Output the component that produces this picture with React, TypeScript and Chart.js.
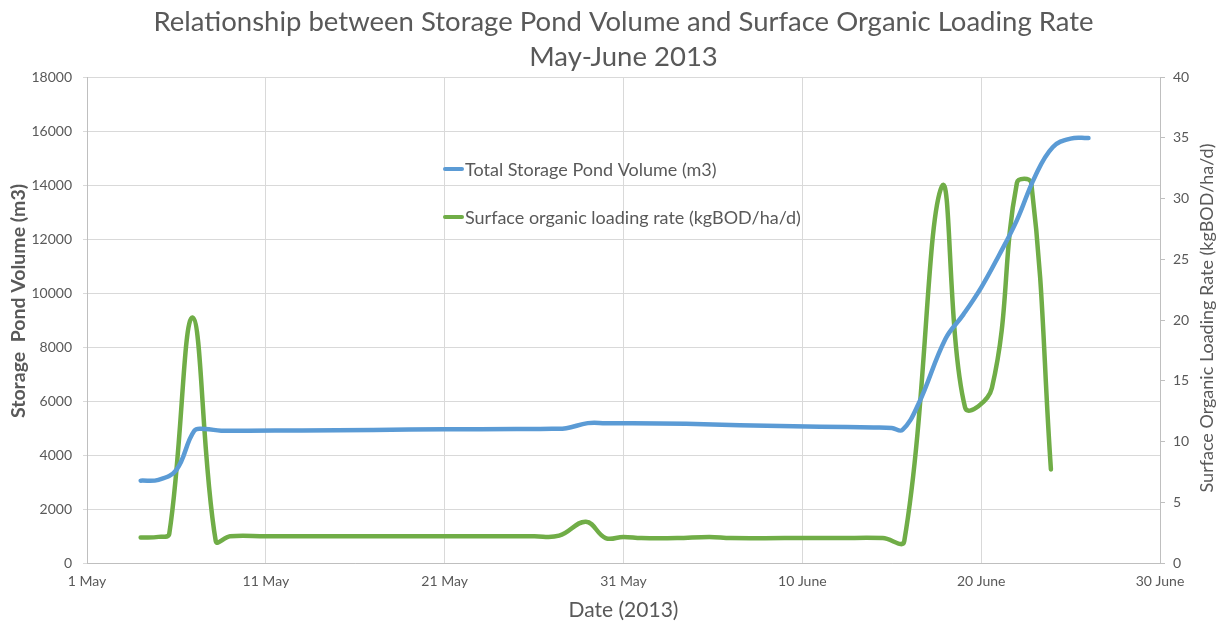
import React, { useEffect, useRef } from 'react';
import { Chart, registerables } from 'chart.js';

Chart.register(...registerables);

// Days counted from 1 May 2013 (0 = 1 May, 30 = 31 May, 60 = 30 June)
const xTickLabels = ['1 May', '11 May', '21 May', '31 May', '10 June', '20 June', '30 June'];

const volumeDays = [3, 4, 5, 6, 6.6, 7.5, 9, 12, 16, 20, 24, 26, 26.8, 28, 29, 32, 35, 38, 41, 44, 45, 45.6, 46.5, 48, 49, 50, 51, 52, 53, 54, 55, 56];
const volumeValues = [3050, 3080, 3450, 4900, 4960, 4900, 4900, 4910, 4930, 4950, 4960, 4970, 4990, 5180, 5180, 5170, 5130, 5080, 5050, 5020, 5000, 4930, 5900, 8300, 9200, 10200, 11400, 12700, 14300, 15400, 15720, 15740];

const loadingDays = [3, 4, 4.6, 5.9, 7.2, 8, 10, 14, 18, 22, 25, 26.4, 27.9, 29, 30, 31, 33, 34.8, 36, 39, 42, 44.5, 45.7, 47.8, 49.1, 50.6, 52, 52.8, 53.9];
const loadingValues = [2.1, 2.15, 2.4, 20.2, 1.8, 2.2, 2.2, 2.2, 2.2, 2.2, 2.2, 2.25, 3.4, 2.05, 2.15, 2.05, 2.05, 2.15, 2.05, 2.05, 2.05, 2.05, 1.8, 31.0, 12.8, 14.4, 31.3, 31.3, 7.7];

const titleLines = ['Relationship between Storage Pond Volume and Surface Organic Loading Rate', 'May-June 2013'];
const seriesNames = ['Total Storage Pond Volume (m3)', 'Surface organic loading rate (kgBOD/ha/d)'];
const axisTitles = ['Storage  Pond Volume (m3)', 'Surface Organic Loading Rate (kgBOD/ha/d)', 'Date (2013)'];
const seriesColors = ['#5b9bd5', '#70ad47'];

const FONT = 'Lato';
const TEXT = '#595959';
const GRID = '#d9d9d9';

const overlayPlugin = {
  id: 'overlay',
  afterDraw(chart: any) {
    const { ctx, chartArea } = chart;
    ctx.save();
    const cx = (chartArea.left + chartArea.right) / 2;
    ctx.fillStyle = TEXT;
    ctx.textAlign = 'center';
    ctx.textBaseline = 'middle';
    ctx.font = `27.5px ${FONT}`;
    ctx.fillText(titleLines[0], cx, 22);
    ctx.fillText(titleLines[1], cx, 57);

    // vertical axis titles (both read bottom-to-top)
    ctx.save();
    ctx.translate(18.5, 301);
    ctx.rotate(-Math.PI / 2);
    ctx.font = `bold 19.5px ${FONT}`;
    ctx.fillText(axisTitles[0], 0, 0);
    ctx.restore();
    ctx.save();
    ctx.translate(1207, 318);
    ctx.rotate(-Math.PI / 2);
    ctx.font = `18px ${FONT}`;
    ctx.fillText(axisTitles[1], 0, 0);
    ctx.restore();

    // legend inside plot
    const lx = 445;
    const ys = [169, 217];
    ctx.font = `18px ${FONT}`;
    ctx.textAlign = 'left';
    ys.forEach((y, i) => {
      ctx.strokeStyle = seriesColors[i];
      ctx.lineWidth = 4;
      ctx.lineCap = 'round';
      ctx.beginPath();
      ctx.moveTo(lx, y);
      ctx.lineTo(lx + 17, y);
      ctx.stroke();
      ctx.fillStyle = TEXT;
      ctx.fillText(seriesNames[i], lx + 20, y + 1);
    });
    ctx.restore();
  },
};

export default function App() {
  const ref = useRef<HTMLCanvasElement | null>(null);
  useEffect(() => {
    document.body.style.margin = '0';
    const canvas = ref.current;
    if (!canvas) return;
    const chart = new Chart(canvas, {
      type: 'line',
      data: {
        datasets: [
          {
            label: seriesNames[0],
            data: volumeDays.map((d, i) => ({ x: d, y: volumeValues[i] })),
            borderColor: seriesColors[0],
            backgroundColor: seriesColors[0],
            borderWidth: 4.5,
            pointRadius: 0,
            tension: 0.4,
            yAxisID: 'y',
            borderCapStyle: 'round',
          },
          {
            label: seriesNames[1],
            data: loadingDays.map((d, i) => ({ x: d, y: loadingValues[i] })),
            borderColor: seriesColors[1],
            backgroundColor: seriesColors[1],
            borderWidth: 4.5,
            pointRadius: 0,
            tension: 0.4,
            yAxisID: 'y1',
            borderCapStyle: 'round',
          },
        ],
      },
      options: {
        responsive: false,
        animation: false,
        layout: { padding: { top: 77, left: 0, right: 0, bottom: 0 } },
        plugins: {
          legend: { display: false },
          title: { display: false },
          tooltip: { enabled: false },
        },
        scales: {
          x: {
            type: 'linear',
            min: 0,
            max: 60,
            ticks: {
              stepSize: 10,
              color: TEXT,
              font: { family: FONT, size: 14 },
              padding: 10,
              callback: (v: any) => xTickLabels[Math.round(Number(v) / 10)] ?? '',
              maxRotation: 0,
            },
            grid: { color: GRID, drawTicks: false },
            border: { color: '#bfbfbf' },
            title: {
              display: true,
              text: axisTitles[2],
              color: TEXT,
              font: { family: FONT, size: 21 },
              padding: { top: 0, bottom: 0 },
            },
            afterFit: (s: any) => { s.height = 60; },
          },
          y: {
            position: 'left',
            min: 0,
            max: 18000,
            ticks: {
              stepSize: 2000,
              color: TEXT,
              font: { family: FONT, size: 14 },
              padding: 11,
              callback: (v: any) => String(v),
            },
            grid: { color: GRID, drawTicks: true, tickLength: 4 },
            border: { color: '#bfbfbf' },
            title: { display: false },
            afterFit: (s: any) => { s.width = 87; },
          },
          y1: {
            position: 'right',
            min: 0,
            max: 40,
            ticks: {
              stepSize: 5,
              color: TEXT,
              font: { family: FONT, size: 14 },
              padding: 8,
              callback: (v: any) => String(v),
            },
            grid: { drawOnChartArea: false, color: '#bfbfbf', tickLength: 5 },
            border: { color: '#bfbfbf' },
            title: { display: false },
            afterFit: (s: any) => { s.width = 59; },
          },
        },
      },
      plugins: [overlayPlugin],
    });
    return () => chart.destroy();
  }, []);
  return (
    <div style={{ position: 'absolute', left: 0, top: 0, width: 1219, height: 623, background: '#fff' }}>
      <canvas ref={ref} width={1219} height={623} />
    </div>
  );
}
